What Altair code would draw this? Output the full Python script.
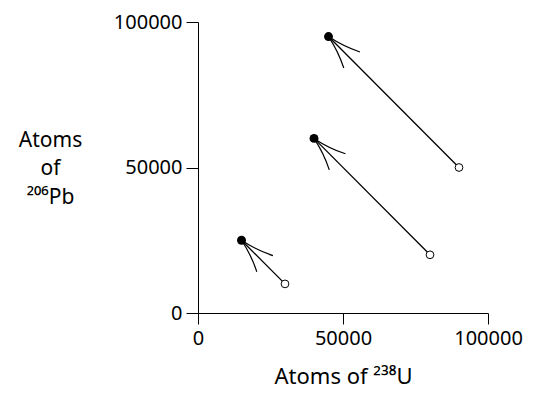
import math
import altair as alt
import pandas as pd

# Data
u_start = [30000, 80000, 90000]    # open circles: atoms of U-238 (initial)
pb_start = [10000, 20000, 50000]   # open circles: atoms of Pb-206 (initial)
u_end = [15000, 40000, 45000]      # filled circles: atoms of U-238 (later)
pb_end = [25000, 60000, 95000]     # filled circles: atoms of Pb-206 (later)
tick_vals = [0, 50000, 100000]

W, H = 290, 291
FONT = "Noto Sans"

lines = pd.DataFrame(
    [{"id": i, "u": u_start[i], "pb": pb_start[i], "o": 0} for i in range(3)]
    + [{"id": i, "u": u_end[i], "pb": pb_end[i], "o": 1} for i in range(3)]
)
opens = pd.DataFrame({"u": u_start, "pb": pb_start})
ends = pd.DataFrame({"u": u_end, "pb": pb_end})
angles = []
for i in range(3):
    dx = (u_start[i] - u_end[i]) * W / 100000
    dy = (pb_end[i] - pb_start[i]) * H / 100000
    angles.append(math.degrees(math.atan2(dy, dx)) % 360)
ends["ang"] = angles

xs = alt.Scale(domain=[0, 100000], nice=False)
ys = alt.Scale(domain=[0, 100000], nice=False)

xax = alt.Axis(
    values=tick_vals, format="d", grid=False, title="Atoms of ²³⁸U",
    labelFont=FONT, labelFontSize=20, labelColor="#000", labelPadding=4,
    labelFlush=False, labelOverlap=False,
    tickSize=11, tickColor="#000", domainColor="#000",
    titleFont=FONT, titleFontSize=22, titleFontWeight="normal", titleColor="#000",
    titleBaseline="alphabetic", titleY=70,
)
yax = alt.Axis(
    values=tick_vals, format="d", grid=False,
    title=["Atoms", "of", "²⁰⁶Pb"],
    labelFont=FONT, labelFontSize=20, labelColor="#000", labelPadding=4,
    labelFlush=False, labelOverlap=False,
    tickSize=12, tickColor="#000", domainColor="#000",
    titleFont=FONT, titleFontSize=21, titleFontWeight="normal", titleColor="#000",
    titleAngle=0, titleAlign="center", titleBaseline="alphabetic",
    titleX=-148, titleY=124, titleLineHeight=28.5,
)

base_line = alt.Chart(lines).mark_line(color="black", strokeWidth=1.3).encode(
    x=alt.X("u:Q", scale=xs, axis=xax),
    y=alt.Y("pb:Q", scale=ys, axis=yax),
    detail="id:N",
    order="o:Q",
)

arrow_path = "M0,0 Q0.5,0.1 0.946,0.326 M0,0 Q0.5,-0.1 0.946,-0.326"
heads = alt.Chart(ends).mark_point(
    shape=arrow_path, size=4900, filled=False, color="black", strokeWidth=1.2, opacity=1
).encode(
    x=alt.X("u:Q", scale=xs),
    y=alt.Y("pb:Q", scale=ys),
    angle=alt.Angle("ang:Q", scale=None),
)

filled = alt.Chart(ends).mark_point(
    shape="circle", size=80, filled=True, color="black", opacity=1
).encode(x=alt.X("u:Q", scale=xs), y=alt.Y("pb:Q", scale=ys))

hollow = alt.Chart(opens).mark_point(
    shape="circle", size=60, filled=True, fill="white", stroke="black", strokeWidth=1, opacity=1
).encode(x=alt.X("u:Q", scale=xs), y=alt.Y("pb:Q", scale=ys))

chart = alt.layer(base_line, heads, filled, hollow).properties(
    width=W, height=H,
    autosize=alt.AutoSizeParams(type="none"),
    padding={"left": 190, "top": 14, "right": 43, "bottom": 75},
).configure_view(stroke=None)

chart.save("out.html", embed_options={"renderer": "svg", "actions": False})
